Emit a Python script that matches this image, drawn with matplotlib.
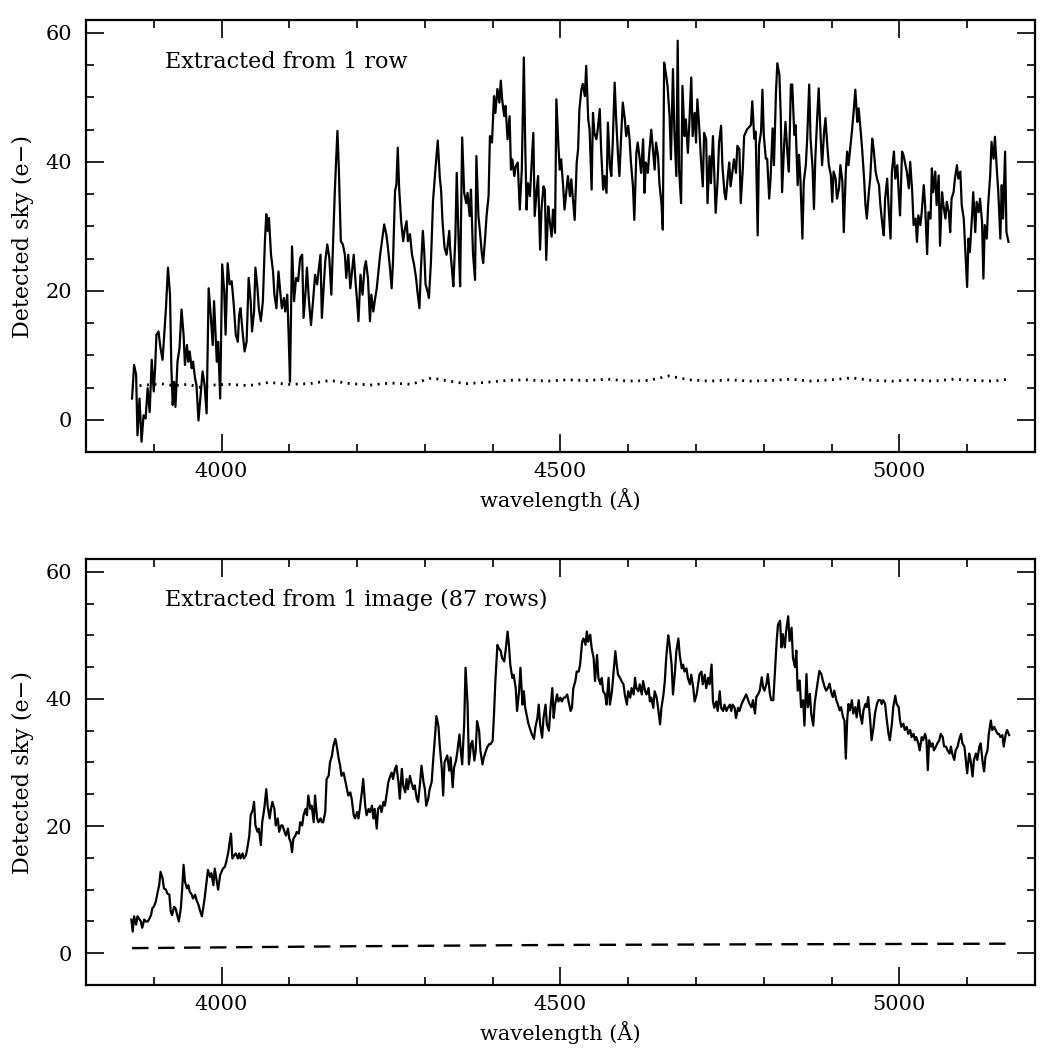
import matplotlib
matplotlib.use("Agg")
import matplotlib.pyplot as plt
from matplotlib.ticker import MultipleLocator

plt.rcParams['font.family'] = ['DejaVu Serif']

# top panel: spectrum extracted from a single row
row_wave = [
    3868, 3871, 3874, 3876, 3879, 3882, 3885, 3888, 3891, 3894,
    3897, 3900, 3902, 3904, 3907, 3910, 3913, 3916, 3918, 3921,
    3924, 3926, 3928, 3930, 3932, 3935, 3938, 3941, 3944, 3946,
    3949, 3951, 3953, 3956, 3958, 3961, 3963, 3966, 3969, 3972,
    3975, 3978, 3981, 3984, 3987, 3989, 3993, 3995, 3998, 4001,
    4004, 4006, 4009, 4012, 4015, 4018, 4021, 4024, 4026, 4028,
    4031, 4034, 4037, 4040, 4043, 4045, 4048, 4050, 4053, 4055,
    4058, 4061, 4064, 4066, 4068, 4070, 4073, 4076, 4078, 4081,
    4084, 4087, 4089, 4092, 4094, 4097, 4099, 4101, 4104, 4107,
    4110, 4113, 4116, 4119, 4121, 4124, 4126, 4129, 4132, 4135,
    4138, 4141, 4143, 4146, 4148, 4151, 4153, 4156, 4159, 4162,
    4164, 4167, 4169, 4171, 4173, 4175, 4176, 4179, 4182, 4184,
    4187, 4190, 4193, 4195, 4198, 4200, 4202, 4205, 4208, 4211,
    4213, 4216, 4219, 4221, 4224, 4226, 4229, 4232, 4234, 4238,
    4240, 4243, 4245, 4248, 4251, 4253, 4256, 4258, 4260, 4262,
    4265, 4268, 4270, 4273, 4275, 4278, 4281, 4284, 4287, 4289,
    4292, 4294, 4297, 4299, 4301, 4304, 4306, 4309, 4312, 4315,
    4319, 4322, 4324, 4326, 4329, 4332, 4336,
    4337, 4340, 4342, 4345, 4347, 4350, 4352, 4355, 4358, 4361,
    4363, 4366, 4368, 4371, 4374, 4376, 4379, 4381, 4384, 4386,
    4389, 4391, 4394, 4396, 4399, 4402, 4404, 4407, 4410, 4412,
    4414, 4417, 4419, 4422, 4425, 4427, 4429, 4432, 4434, 4437,
    4440, 4443, 4446, 4448, 4450, 4452, 4455, 4457, 4460, 4462,
    4465, 4467, 4470, 4472, 4475, 4477, 4479, 4482, 4484, 4487,
    4489, 4492, 4494, 4497, 4499, 4501, 4504, 4506, 4509, 4511,
    4514, 4516, 4519, 4521, 4524, 4526, 4528, 4531, 4533, 4536,
    4538, 4541, 4543, 4546, 4548, 4550, 4553, 4555, 4558, 4560,
    4563, 4565, 4568, 4570, 4573, 4575, 4577, 4580, 4582, 4585,
    4587, 4590, 4592, 4595, 4597, 4600, 4602, 4604, 4607, 4609,
    4612, 4614, 4617, 4619, 4622, 4624, 4626, 4629, 4631, 4634,
    4636, 4639, 4641, 4644, 4646, 4649, 4651, 4653, 4656, 4658,
    4661, 4663, 4666, 4668, 4671, 4673, 4675, 4678, 4680, 4683,
    4685, 4688, 4690, 4693, 4695, 4698, 4700, 4702, 4705, 4707,
    4710, 4712, 4715, 4717, 4720, 4722, 4725, 4727, 4729, 4732,
    4734, 4737, 4739, 4742, 4744, 4747, 4749, 4751, 4754, 4756,
    4759, 4761, 4764, 4766, 4769, 4771, 4775,
    4781, 4783, 4786, 4788, 4791, 4793, 4796, 4798, 4800, 4803,
    4805, 4808, 4810, 4813, 4815, 4818, 4820, 4823, 4825, 4827,
    4830, 4832, 4835, 4837, 4840, 4842, 4845, 4847, 4850, 4852,
    4854, 4857, 4859, 4862, 4864, 4867, 4869, 4872, 4874, 4876,
    4879, 4881, 4884, 4886, 4889, 4891, 4894, 4896, 4899, 4901,
    4903, 4906, 4908, 4911, 4913, 4916, 4918, 4921, 4923, 4925,
    4928, 4930, 4933, 4935, 4938, 4940, 4943, 4945, 4948, 4950,
    4952, 4955, 4957, 4960, 4962, 4965, 4967, 4970, 4972, 4975,
    4977, 4979, 4982, 4984, 4987, 4989, 4992, 4994, 4997, 4999,
    5001, 5004, 5006, 5009, 5011, 5014, 5016, 5019, 5021, 5024,
    5026, 5028, 5031, 5033, 5036, 5038, 5041, 5043, 5046, 5048,
    5050, 5053, 5055, 5058, 5060, 5063, 5065, 5068, 5070, 5073,
    5075, 5077, 5080, 5082, 5085, 5087, 5090, 5092, 5095, 5097,
    5100, 5102, 5104, 5107, 5109, 5112, 5114, 5117, 5119, 5122,
    5124, 5126, 5129, 5131, 5134, 5136, 5139, 5141, 5144, 5146,
    5149, 5151, 5153, 5156, 5158, 5161,
]
row_sky = [
    3.3, 8.5, 7.0, -2.4, 3.3, -3.4, 0.7, 0.2, 4.9, 1.2,
    9.3, 4.4, 8.0, 13.2, 13.7, 11.1, 9.3, 14.2, 17.3, 23.6,
    19.4, 8.0, 2.3, 5.9, 2.0, 9.0, 11.1, 17.1, 13.2, 8.5,
    11.6, 9.0, 10.6, 8.0, 9.0, 6.4, 5.4, -0.1, 3.8, 7.5,
    5.4, 1.0, 20.4, 16.3, 11.6, 18.4, 9.0, 12.1, 3.3, 24.1,
    19.9, 13.2, 24.3, 21.0, 21.5, 17.9, 13.2, 12.1, 16.3, 17.3,
    13.7, 10.6, 12.1, 22.0, 18.4, 13.7, 16.8, 23.6, 20.4, 17.3,
    15.3, 18.4, 27.7, 31.9, 29.3, 31.3, 25.6, 23.0, 19.4, 17.3,
    23.0, 19.4, 17.3, 18.9, 16.8, 19.4, 13.2, 5.9, 26.9, 18.4,
    22.0, 21.5, 25.1, 25.6, 15.8, 19.9, 23.6, 18.4, 14.7, 18.4,
    22.5, 21.0, 23.0, 25.6, 15.8, 21.0, 24.6, 27.2, 25.1, 19.4,
    25.6, 35.0, 40.2, 44.8, 39.1, 31.3, 27.7, 27.2, 25.6, 22.0,
    25.6, 20.4, 23.6, 25.6, 21.0, 18.4, 15.3, 22.5, 19.4, 23.6,
    24.6, 22.0, 15.3, 19.4, 16.8, 18.4, 20.4, 23.6, 25.6, 28.8,
    30.3, 28.8, 27.2, 24.1, 20.4, 24.6, 35.5, 36.5, 42.2, 36.0,
    30.8, 27.7, 29.3, 30.8, 27.7, 28.8, 25.6, 24.1, 22.0, 19.9,
    17.3, 23.0, 29.3, 26.2, 21.0, 19.9, 18.9, 24.6, 33.9, 38.1,
    43.3, 37.6, 35.5, 30.8, 26.7, 25.6, 29.3,
    26.9, 23.3, 20.7, 28.4, 38.3, 26.9, 20.7, 43.8, 35.2, 33.6,
    35.2, 31.6, 35.7, 25.8, 21.7, 40.9, 31.6, 29.5, 25.8, 24.3,
    28.4, 31.6, 34.7, 44.0, 43.0, 50.2, 47.6, 51.3, 49.2, 52.6,
    49.7, 47.1, 48.7, 43.5, 47.1, 38.8, 40.4, 37.8, 39.3, 39.9,
    32.6, 38.8, 56.2, 43.0, 32.6, 36.7, 34.7, 38.8, 44.5, 31.6,
    35.7, 37.8, 26.4, 32.6, 36.2, 35.7, 24.8, 33.1, 31.0, 28.4,
    32.6, 29.0, 49.7, 42.5, 38.8, 40.4, 36.2, 32.6, 35.7, 37.8,
    34.7, 37.3, 33.6, 31.0, 39.9, 41.9, 48.2, 51.3, 52.1, 50.2,
    54.9, 46.6, 45.0, 35.7, 47.6, 44.5, 43.5, 45.0, 48.2, 41.9,
    35.7, 37.8, 35.2, 46.1, 39.3, 37.8, 42.5, 52.3, 47.1, 40.9,
    37.8, 45.0, 49.2, 46.6, 44.0, 45.6, 43.5, 39.9, 36.2, 31.0,
    41.4, 43.0, 40.4, 38.3, 43.5, 35.2, 39.9, 38.3, 41.4, 45.0,
    42.5, 38.8, 43.0, 40.9, 36.7, 33.6, 29.5, 55.4, 53.4, 51.8,
    47.1, 40.4, 54.4, 45.0, 37.8, 58.8, 38.8, 33.6, 51.8, 44.0,
    46.6, 41.4, 45.6, 53.1, 44.0, 47.6, 43.0, 49.7, 45.0, 40.9,
    36.2, 44.5, 43.5, 33.6, 40.9, 36.7, 44.0, 37.8, 32.1, 37.3,
    43.0, 45.6, 39.3, 35.2, 34.2, 37.8, 39.9, 36.2, 38.8, 40.4,
    38.3, 42.5, 42.0, 33.6, 38.8, 44.0, 45.0,
    45.7, 49.4, 43.6, 44.7, 28.6, 42.6, 44.7, 51.2, 44.2, 40.5,
    40.5, 34.3, 37.4, 45.2, 39.5, 50.9, 55.3, 53.5, 47.3, 35.3,
    42.6, 46.2, 41.1, 38.5, 52.0, 52.0, 44.2, 45.7, 36.4, 41.1,
    37.4, 28.1, 36.9, 39.5, 43.6, 52.0, 43.6, 39.0, 32.7, 40.5,
    47.3, 51.4, 43.6, 39.5, 44.7, 46.8, 42.1, 39.5, 37.9, 33.8,
    38.5, 37.4, 34.3, 35.9, 39.5, 36.9, 29.1, 38.5, 41.6, 39.5,
    42.6, 44.7, 48.3, 51.2, 46.2, 48.3, 44.7, 42.1, 37.4, 33.3,
    31.2, 35.3, 37.4, 43.6, 42.1, 38.5, 37.4, 36.4, 33.3, 30.2,
    28.6, 34.3, 37.4, 33.3, 28.1, 38.5, 41.6, 37.4, 39.5, 35.3,
    31.7, 41.6, 41.1, 39.5, 38.5, 35.9, 40.0, 35.3, 30.2, 31.2,
    27.6, 31.7, 30.2, 32.2, 36.4, 33.3, 25.7, 32.2, 31.2, 39.0,
    35.3, 38.5, 33.3, 37.9, 27.0, 35.3, 33.3, 31.2, 33.8, 32.2,
    29.1, 34.3, 35.3, 37.4, 39.5, 37.4, 38.5, 33.3, 31.2, 27.0,
    20.6, 28.1, 26.0, 31.2, 35.3, 29.1, 33.8, 32.2, 34.3, 30.7,
    21.9, 30.2, 28.1, 33.3, 37.9, 43.1, 40.5, 43.9, 38.5, 35.3,
    28.1, 36.4, 31.2, 41.6, 29.1, 27.6,
]

# noise level for one row (dotted)
row_noise_wave = [3868, 3890, 3910, 3930, 3950, 3970, 3990, 4010, 4040, 4070,
                  4100, 4130, 4160, 4190, 4220, 4250, 4280, 4310, 4330, 4360,
                  4390, 4420, 4450, 4480, 4510, 4540, 4570, 4600, 4630, 4660,
                  4690, 4720, 4750, 4780, 4810, 4840, 4870, 4900, 4930, 4960,
                  4990, 5020, 5050, 5080, 5110, 5140, 5160]
row_noise = [5.2, 5.4, 5.6, 5.3, 5.5, 5.0, 5.4, 5.5, 5.3, 5.8,
             5.5, 5.6, 6.1, 5.6, 5.4, 5.7, 5.5, 6.5, 6.1, 5.6,
             5.8, 6.1, 6.2, 6.0, 6.2, 6.1, 6.3, 6.0, 6.1, 6.8,
             6.2, 6.0, 6.2, 6.0, 6.1, 6.3, 6.0, 6.2, 6.5, 6.1,
             6.0, 6.2, 6.0, 6.3, 6.1, 6.0, 6.3]

# bottom panel: spectrum summed over one image (87 rows)
img_wave = [
    3867, 3869, 3871, 3874, 3876, 3878, 3881, 3883, 3886, 3888,
    3891, 3893, 3896, 3898, 3900, 3903, 3905, 3908, 3910, 3913,
    3915, 3918, 3920, 3923, 3925, 3927, 3930, 3932, 3935, 3937,
    3940, 3942, 3944, 3946, 3949, 3951, 3953, 3956, 3958, 3961,
    3963, 3966, 3968, 3971, 3973, 3975, 3978, 3980, 3983, 3985,
    3988, 3990, 3993, 3995, 3998, 4000, 4002, 4005, 4007, 4010,
    4012, 4014, 4016, 4019, 4021, 4024, 4026, 4028, 4031, 4033,
    4036, 4038, 4041, 4043, 4046, 4048, 4050, 4053, 4055, 4058,
    4060, 4063, 4066, 4068, 4071, 4073, 4075, 4078, 4080, 4083,
    4085, 4088, 4090, 4093, 4095, 4098, 4100, 4102, 4104, 4106,
    4109, 4111, 4114, 4116, 4119, 4121, 4124, 4126, 4128, 4131,
    4133, 4136, 4138, 4141, 4143, 4146, 4148, 4150, 4153, 4155,
    4158, 4160, 4163, 4165, 4168, 4170, 4173, 4175, 4177, 4180,
    4182, 4185, 4187, 4190, 4192, 4195, 4197, 4200, 4202, 4204,
    4207, 4209, 4212, 4214, 4217, 4219, 4222, 4224, 4226, 4229,
    4231, 4234, 4236, 4239, 4241, 4244, 4246, 4249, 4251, 4253,
    4256, 4258, 4261, 4263, 4266, 4268, 4271, 4273, 4275, 4278,
    4280, 4283, 4285, 4288, 4290, 4293, 4295, 4298, 4300, 4302,
    4305, 4307, 4310, 4312, 4315, 4317, 4320, 4322, 4325, 4327,
    4329, 4333,
    4336, 4338, 4341, 4343, 4346, 4348, 4351, 4353, 4355, 4358,
    4360, 4363, 4365, 4368, 4370, 4373, 4375, 4377, 4380, 4382,
    4385, 4387, 4390, 4392, 4395, 4397, 4400, 4402, 4404, 4407,
    4409, 4412, 4414, 4417, 4419, 4422, 4424, 4426, 4429, 4431,
    4434, 4436, 4439, 4441, 4444, 4446, 4448, 4451, 4453, 4456,
    4458, 4461, 4463, 4466, 4468, 4470, 4473, 4475, 4478, 4480,
    4483, 4485, 4488, 4490, 4492, 4495, 4497, 4500, 4502, 4505,
    4507, 4510, 4512, 4515, 4517, 4519, 4522, 4524, 4527, 4529,
    4532, 4534, 4537, 4539, 4541, 4544, 4546, 4549, 4551, 4554,
    4556, 4559, 4561, 4563, 4566, 4568, 4571, 4573, 4576, 4578,
    4581, 4583, 4585, 4588, 4590, 4593, 4595, 4598, 4600, 4603,
    4605, 4608, 4610, 4612, 4615, 4617, 4620, 4622, 4625, 4627,
    4630, 4632, 4634, 4637, 4639, 4642, 4644, 4647, 4649, 4652,
    4654, 4656, 4659, 4661, 4664, 4666, 4669, 4671, 4674, 4676,
    4679, 4681, 4683, 4686, 4688, 4691, 4693, 4696, 4698, 4701,
    4703, 4705, 4708, 4710, 4713, 4715, 4718, 4720, 4723, 4725,
    4727, 4730, 4732, 4735, 4737, 4740, 4742, 4745, 4747, 4750,
    4752, 4754, 4757, 4759, 4762, 4764, 4767, 4769, 4774,
    4779, 4782, 4784, 4787, 4789, 4792, 4794, 4797, 4799, 4801,
    4804, 4806, 4809, 4811, 4814, 4816, 4819, 4821, 4824, 4826,
    4828, 4831, 4833, 4836, 4838, 4841, 4843, 4846, 4848, 4850,
    4853, 4855, 4858, 4860, 4863, 4865, 4868, 4870, 4873, 4875,
    4877, 4880, 4882, 4885, 4887, 4890, 4892, 4895, 4897, 4900,
    4902, 4904, 4907, 4909, 4912, 4914, 4917, 4919, 4921, 4923,
    4925, 4927, 4930, 4932, 4935, 4937, 4940, 4942, 4945, 4947,
    4950, 4952, 4954, 4957, 4959, 4962, 4964, 4967, 4969, 4972,
    4974, 4976, 4979, 4981, 4984, 4986, 4989, 4991, 4994, 4996,
    4999, 5001, 5003, 5006, 5008, 5011, 5013, 5016, 5018, 5021,
    5023, 5025, 5028, 5030, 5033, 5035, 5038, 5040, 5042, 5044,
    5047, 5049, 5051, 5054, 5056, 5059, 5061, 5064, 5066, 5069,
    5071, 5074, 5076, 5078, 5081, 5083, 5086, 5088, 5091, 5093,
    5096, 5098, 5100, 5103, 5105, 5108, 5110, 5113, 5115, 5118,
    5120, 5123, 5125, 5127, 5130, 5132, 5135, 5137, 5140, 5142,
    5145, 5147, 5149, 5152, 5154, 5157, 5159, 5162,
]
img_sky = [
    5.3, 3.4, 5.8, 4.5, 5.8, 5.5, 5.0, 4.0, 5.3, 5.0,
    5.0, 5.3, 6.0, 7.1, 7.3, 8.1, 9.2, 10.7, 12.8, 11.8,
    10.2, 10.0, 9.4, 9.2, 6.6, 6.0, 7.3, 7.1, 5.8, 5.0,
    7.1, 10.2, 13.9, 11.3, 10.2, 10.7, 9.7, 9.2, 8.6, 9.2,
    8.4, 7.6, 6.8, 5.8, 7.1, 8.6, 11.3, 13.1, 12.0, 12.6,
    10.7, 13.3, 11.3, 10.0, 12.3, 12.8, 13.3, 13.6, 14.4, 15.9,
    17.5, 18.8, 14.9, 15.4, 15.7, 14.9, 15.7, 14.9, 15.7, 14.9,
    15.4, 16.5, 18.5, 21.7, 22.5, 23.8, 20.1, 19.1, 19.6, 17.0,
    20.6, 22.7, 25.8, 23.2, 21.2, 22.7, 23.8, 22.7, 20.1, 21.2,
    19.1, 20.1, 20.1, 19.1, 18.5, 19.6, 18.0, 17.5, 15.9, 18.0,
    18.5, 19.1, 18.8, 20.6, 20.1, 21.7, 22.7, 21.7, 24.8, 22.7,
    23.2, 20.6, 24.8, 21.2, 20.6, 21.2, 20.6, 20.6, 22.2, 27.4,
    27.9, 30.0, 31.1, 32.6, 33.7, 32.6, 30.5, 29.5, 27.9, 28.4,
    27.4, 25.8, 24.8, 25.3, 24.3, 21.7, 21.2, 22.2, 21.2, 22.7,
    25.3, 27.4, 23.2, 21.7, 22.7, 22.2, 23.2, 21.2, 22.7, 19.6,
    22.7, 23.2, 22.2, 23.8, 23.2, 25.3, 26.9, 27.9, 28.4, 27.4,
    29.0, 29.5, 26.9, 24.3, 29.0, 26.4, 25.3, 27.4, 25.8, 27.9,
    26.9, 25.8, 26.4, 24.3, 23.8, 26.9, 29.5, 26.9, 25.8, 23.2,
    24.3, 25.8, 26.9, 30.0, 34.2, 37.3, 35.7, 32.6, 29.0, 24.8,
    30.0, 31.1,
    28.7, 30.8, 26.1, 29.2, 30.3, 31.8, 34.4, 31.8, 29.7, 36.0,
    44.9, 39.1, 29.7, 32.9, 33.4, 30.3, 31.8, 36.5, 35.0, 31.8,
    29.7, 30.8, 31.8, 32.4, 32.9, 32.9, 33.4, 37.6, 42.8, 48.5,
    48.0, 47.5, 46.4, 45.9, 47.5, 50.6, 48.5, 45.4, 43.3, 43.8,
    41.7, 38.1, 41.2, 44.9, 39.1, 41.2, 38.6, 37.0, 36.0, 35.0,
    34.4, 33.7, 35.5, 37.0, 39.1, 36.0, 33.9, 37.0, 39.1, 36.0,
    35.0, 38.1, 41.7, 37.0, 39.1, 40.7, 39.6, 40.2, 39.6, 40.2,
    40.2, 40.7, 39.6, 38.1, 38.6, 41.7, 42.8, 44.3, 44.3, 45.4,
    49.0, 49.5, 48.5, 50.6, 49.0, 50.1, 48.0, 46.4, 42.8, 46.9,
    43.3, 42.3, 43.3, 41.2, 40.7, 39.1, 43.3, 39.1, 41.2, 43.8,
    47.5, 45.4, 43.8, 43.3, 42.8, 42.3, 40.7, 39.1, 41.2, 40.2,
    41.7, 40.7, 43.3, 41.7, 41.2, 42.3, 40.7, 42.8, 41.2, 40.7,
    41.7, 39.6, 40.2, 38.6, 41.2, 40.2, 38.6, 36.0, 38.6, 40.7,
    42.8, 46.4, 50.0, 48.5, 45.4, 40.7, 44.3, 47.5, 49.5, 46.9,
    44.8, 45.4, 44.3, 44.8, 43.3, 42.3, 43.8, 41.7, 39.6, 40.7,
    42.3, 43.8, 44.3, 42.3, 43.8, 41.7, 43.3, 42.3, 45.4, 39.6,
    38.6, 39.6, 38.1, 41.2, 38.6, 38.1, 39.1, 38.1, 38.6, 39.1,
    38.1, 39.1, 38.6, 37.0, 38.6, 38.1, 39.1, 39.6, 40.7,
    39.2, 38.7, 39.8, 37.7, 40.3, 40.8, 41.3, 43.4, 41.8, 41.3,
    42.4, 43.9, 40.8, 39.8, 39.8, 43.4, 49.1, 51.7, 52.3, 48.1,
    50.2, 48.1, 50.7, 53.0, 49.1, 51.2, 46.5, 45.0, 47.6, 41.3,
    42.9, 38.7, 39.8, 35.8, 43.9, 38.7, 40.8, 37.7, 35.8, 39.2,
    40.8, 42.9, 44.4, 43.9, 42.9, 41.8, 41.3, 41.8, 42.4, 40.8,
    40.3, 41.3, 39.8, 39.2, 38.2, 38.7, 37.1, 36.6, 30.6, 36.6,
    39.2, 38.2, 39.8, 37.7, 38.7, 37.1, 39.8, 37.7, 36.1, 38.2,
    39.2, 38.7, 40.3, 36.6, 33.5, 35.6, 37.7, 39.2, 39.8, 39.8,
    39.2, 39.8, 39.2, 37.1, 34.5, 33.5, 36.1, 38.7, 40.5, 39.2,
    38.7, 36.6, 35.6, 36.1, 35.1, 35.6, 34.5, 35.1, 34.0, 34.5,
    33.5, 34.0, 33.0, 31.9, 34.0, 33.5, 34.5, 33.5, 28.8, 33.5,
    32.5, 33.0, 31.9, 32.5, 33.0, 33.5, 34.5, 34.0, 32.5, 32.5,
    31.9, 31.4, 32.5, 31.4, 30.4, 31.9, 32.5, 33.5, 34.5, 33.0,
    32.5, 30.4, 28.3, 31.4, 30.4, 27.8, 30.4, 31.4, 30.4, 32.5,
    33.0, 29.9, 28.6, 30.9, 31.9, 34.5, 36.6, 35.1, 35.6, 35.1,
    34.5, 34.5, 34.0, 34.3, 32.5, 34.5, 35.1, 34.3,
]

# noise level for the summed image (dashed)
img_noise_wave = [3868, 4200, 4500, 4800, 5160]
img_noise = [0.8, 1.1, 1.3, 1.4, 1.5]

labels = ['Extracted from 1 row', 'Extracted from 1 image (87 rows)']

fig = plt.figure(figsize=(10.42, 10.50), dpi=100)
ax1 = fig.add_axes([0.0825, 0.5695, 0.9107, 0.4114])
ax2 = fig.add_axes([0.0825, 0.0619, 0.9107, 0.4057])

ax1.plot(row_wave, row_sky, color='black', lw=1.6)
ax1.plot(row_noise_wave, row_noise, color='black', lw=2.0, linestyle=(0, (0.7, 2.0)))
ax2.plot(img_wave, img_sky, color='black', lw=1.6)
ax2.plot(img_noise_wave, img_noise, color='black', lw=1.7, dashes=(7, 4))

for ax, text in zip([ax1, ax2], labels):
    ax.set_xlim(3800, 5200)
    ax.set_ylim(-5, 62)
    ax.xaxis.set_major_locator(MultipleLocator(500))
    ax.xaxis.set_minor_locator(MultipleLocator(100))
    ax.yaxis.set_major_locator(MultipleLocator(20))
    ax.yaxis.set_minor_locator(MultipleLocator(5))
    ax.tick_params(which='both', direction='in', top=True, right=True, width=1.2,
                   labelsize=15)
    ax.tick_params(which='major', length=13)
    ax.tick_params(which='minor', length=6)
    ax.tick_params(axis='x', pad=7)
    ax.tick_params(axis='y', pad=10)
    for sp in ax.spines.values():
        sp.set_linewidth(1.6)
    ax.set_xlabel('wavelength (Å)', fontsize=15, labelpad=5)
    ax.set_ylabel('Detected sky (e−)', fontsize=16, labelpad=8)
    ax.text(3916, 55.5, text, fontsize=16, va='center', ha='left')

fig.savefig('out.png', dpi=100)
